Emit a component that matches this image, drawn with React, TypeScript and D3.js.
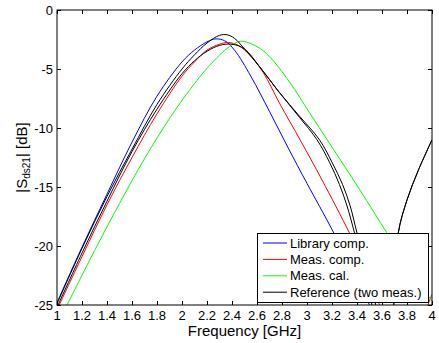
import { useEffect, useRef } from "react";
import * as d3 from "d3";

// axis ticks
const xTicks = [1, 1.2, 1.4, 1.6, 1.8, 2, 2.2, 2.4, 2.6, 2.8, 3, 3.2, 3.4, 3.6, 3.8, 4];
const yTicks = [0, -5, -10, -15, -20, -25];

// Library comp. (blue)
const libFreq = [1.0, 1.2, 1.4, 1.6, 1.8, 2.0, 2.1, 2.2, 2.27, 2.34, 2.42, 2.55, 2.7, 2.85, 3.0, 3.2, 3.35, 3.5, 3.6];
const libS21 = [-24.8, -20.1, -15.6, -11.2, -7.3, -4.4, -3.4, -2.7, -2.45, -2.6, -3.4, -5.6, -8.6, -11.7, -14.7, -18.6, -21.8, -25.0, -27.0];

// Meas. comp. (red)
const compFreq = [1.0, 1.2, 1.4, 1.6, 1.8, 2.0, 2.1, 2.2, 2.3, 2.37, 2.45, 2.55, 2.65, 2.78, 2.95, 3.12, 3.34, 3.46, 3.58, 3.7, 3.8, 3.9, 4.0];
const compS21 = [-25.4, -20.9, -16.5, -12.5, -8.8, -5.6, -4.4, -3.4, -2.9, -2.75, -3.0, -3.9, -5.3, -7.9, -11.1, -14.4, -18.9, -21.6, -25.0, -28.0, -29.5, -26.8, -24.1];

// Meas. cal. (green)
const calFreq = [1.0, 1.08, 1.3, 1.5, 1.7, 1.9, 2.06, 2.22, 2.38, 2.47, 2.6, 2.7, 2.86, 3.02, 3.18, 3.42, 3.64, 3.8, 4.0];
const calS21 = [-26.7, -25.0, -20.4, -16.4, -12.6, -9.2, -6.8, -4.7, -3.1, -2.65, -3.1, -3.95, -6.1, -8.7, -11.3, -15.2, -18.9, -21.5, -24.7];

// Reference (two meas.) (black)
const refAFreq = [1.0, 1.2, 1.4, 1.6, 1.8, 2.0, 2.1, 2.2, 2.3, 2.36, 2.42, 2.5, 2.62, 2.78, 2.94, 3.08, 3.18, 3.26, 3.32, 3.38, 3.45, 3.52, 3.6, 3.66, 3.7, 3.73, 3.8, 3.89, 4.0];
const refAS21 = [-24.9, -20.2, -15.8, -11.8, -8.0, -5.0, -3.8, -2.8, -2.15, -2.1, -2.4, -3.3, -4.8, -7.0, -9.1, -11.0, -12.9, -14.8, -16.6, -18.9, -22.0, -25.0, -30.0, -33.0, -23.5, -18.9, -16.1, -13.6, -11.0];
const refBFreq = [1.0, 1.2, 1.4, 1.6, 1.8, 2.0, 2.1, 2.2, 2.3, 2.4, 2.5, 2.62, 2.78, 2.94, 3.1, 3.2, 3.285, 3.345, 3.4, 3.475, 3.55, 3.62, 3.66, 3.7, 3.73, 3.8, 3.89, 4.0];
const refBS21 = [-25.2, -20.6, -16.2, -12.0, -8.4, -5.4, -4.3, -3.5, -3.0, -2.9, -3.3, -4.8, -7.0, -9.0, -11.0, -12.9, -14.8, -16.6, -18.9, -22.0, -25.0, -30.0, -33.0, -23.5, -18.9, -16.1, -13.6, -11.0];

const legendLabels = ["Library comp.", "Meas. comp.", "Meas. cal.", "Reference (two meas.)"];
const legendColors = ["#0000ff", "#ff0000", "#00ff00", "#000000"];

const FONT = "'Liberation Sans', Arial, Helvetica, sans-serif";

const App = () => {
  const svgRef = useRef<SVGSVGElement | null>(null);

  useEffect(() => {
    const width = 439;
    const height = 343;
    const left = 57, right = 432, top = 10, bottom = 305;

    const svg = d3.select(svgRef.current);
    svg.selectAll("*").remove();
    svg.attr("width", width).attr("height", height);

    const x = d3.scaleLinear().domain([1, 4]).range([left, right]);
    const y = d3.scaleLinear().domain([-25, 0]).range([bottom, top]);

    svg.append("rect").attr("width", width).attr("height", height).attr("fill", "#fff");

    svg.append("defs").append("clipPath").attr("id", "plot-clip")
      .append("rect")
      .attr("x", left).attr("y", top)
      .attr("width", right - left).attr("height", bottom - top);

    // curves
    const series = [
      { f: libFreq, v: libS21, color: legendColors[0] },
      { f: compFreq, v: compS21, color: legendColors[1] },
      { f: calFreq, v: calS21, color: legendColors[2] },
      { f: refAFreq, v: refAS21, color: legendColors[3] },
      { f: refBFreq, v: refBS21, color: legendColors[3] },
    ];
    const line = d3.line<[number, number]>()
      .x(d => x(d[0]))
      .y(d => y(d[1]))
      .curve(d3.curveCatmullRom.alpha(0.5));

    const plot = svg.append("g").attr("clip-path", "url(#plot-clip)");
    series.forEach(s => {
      plot.append("path")
        .attr("d", line(s.f.map((f, i) => [f, s.v[i]] as [number, number])))
        .attr("fill", "none")
        .attr("stroke", s.color)
        .attr("stroke-width", 1);
    });

    // frame + ticks on every side
    const axes = svg.append("g").attr("stroke", "#000").attr("stroke-width", 1);
    axes.append("rect")
      .attr("x", left).attr("y", top)
      .attr("width", right - left).attr("height", bottom - top)
      .attr("fill", "none");
    const tl = 4;
    xTicks.forEach(t => {
      const px = Math.round(x(t)) + 0.5;
      axes.append("line").attr("x1", px).attr("x2", px).attr("y1", bottom).attr("y2", bottom - tl);
      axes.append("line").attr("x1", px).attr("x2", px).attr("y1", top).attr("y2", top + tl);
    });
    yTicks.forEach(t => {
      const py = Math.round(y(t)) + 0.5;
      axes.append("line").attr("x1", left).attr("x2", left + tl).attr("y1", py).attr("y2", py);
      axes.append("line").attr("x1", right).attr("x2", right - tl).attr("y1", py).attr("y2", py);
    });

    // tick labels
    svg.append("g").selectAll("text").data(xTicks).enter().append("text")
      .attr("x", d => x(d))
      .attr("y", 320)
      .attr("text-anchor", "middle")
      .attr("font-family", FONT)
      .attr("font-size", 13)
      .text(d => String(d));

    svg.append("g").selectAll("text").data(yTicks).enter().append("text")
      .attr("x", 53)
      .attr("y", d => y(d))
      .attr("dy", "0.36em")
      .attr("text-anchor", "end")
      .attr("font-family", FONT)
      .attr("font-size", 13)
      .text(d => String(d));

    // axis titles
    svg.append("text")
      .attr("x", (left + right) / 2)
      .attr("y", 336)
      .attr("text-anchor", "middle")
      .attr("font-family", FONT)
      .attr("font-size", 15)
      .text("Frequency [GHz]");

    const yl = svg.append("text")
      .attr("transform", `translate(27, ${(top + bottom) / 2}) rotate(-90)`)
      .attr("text-anchor", "middle")
      .attr("font-family", FONT)
      .attr("font-size", 15);
    yl.append("tspan").text("|S");
    yl.append("tspan").attr("font-size", 10).attr("dy", 3).text("ds21");
    yl.append("tspan").attr("dy", -3).text("| [dB]");

    // legend
    const lg = svg.append("g");
    lg.append("rect")
      .attr("x", 257.5).attr("y", 233.5)
      .attr("width", 171).attr("height", 69)
      .attr("fill", "#fff")
      .attr("stroke", "#000")
      .attr("stroke-width", 1);
    legendLabels.forEach((label, i) => {
      const cy = 243 + i * 16.4;
      lg.append("line")
        .attr("x1", 263).attr("x2", 287)
        .attr("y1", cy).attr("y2", cy)
        .attr("stroke", legendColors[i])
        .attr("stroke-width", 1);
      lg.append("text")
        .attr("x", 290)
        .attr("y", cy)
        .attr("dy", "0.36em")
        .attr("font-family", FONT)
        .attr("font-size", 13)
        .text(label);
    });
  }, []);

  return (
    <div style={{ position: "absolute", left: 0, top: 0 }}>
      <svg ref={svgRef} style={{ display: "block" }}></svg>
    </div>
  );
};

export default App;
